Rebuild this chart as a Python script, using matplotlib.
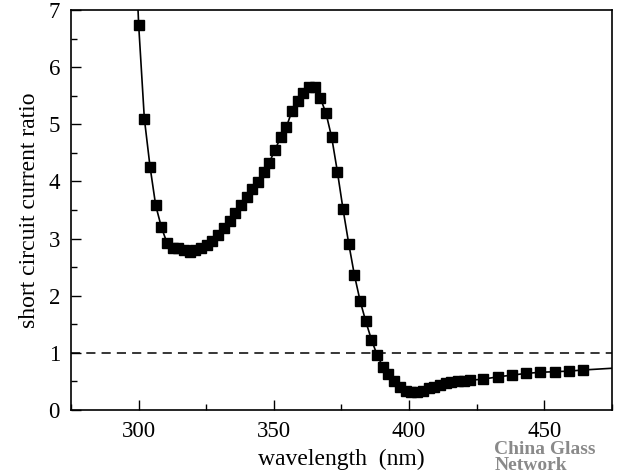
import matplotlib

matplotlib.use("Agg")

import matplotlib.pyplot as plt
from matplotlib.ticker import MultipleLocator

# values
wavelength_nm = [
    300.0, 302.1, 304.2, 306.3, 308.4, 310.5, 312.6, 314.7, 316.8, 318.9,
    321.0, 323.1, 325.2, 327.3, 329.4, 331.5, 333.6, 335.7, 337.8, 339.9,
    342.0, 344.1, 346.2, 348.3, 350.4, 352.5, 354.6, 356.7, 358.8, 360.9,
    363.0, 365.1, 367.2, 369.3, 371.4, 373.5, 375.6, 377.7, 379.8, 381.9,
    384.0, 386.1, 388.2, 390.3, 392.4, 394.5, 396.6, 398.7, 400.8, 402.9,
    405.0, 407.2, 409.4, 411.3, 413.7, 415.6, 418.0, 420.4, 422.5,
    427.5, 432.8, 438.1, 443.3, 448.6, 453.9, 459.1, 464.5,
]
current_ratio = [
    6.74, 5.10, 4.26, 3.58, 3.20, 2.92, 2.83, 2.83, 2.80, 2.77,
    2.80, 2.83, 2.88, 2.95, 3.06, 3.18, 3.31, 3.45, 3.59, 3.73,
    3.87, 3.99, 4.17, 4.33, 4.55, 4.77, 4.95, 5.23, 5.41, 5.54,
    5.65, 5.65, 5.46, 5.19, 4.77, 4.17, 3.51, 2.91, 2.36, 1.91,
    1.55, 1.23, 0.96, 0.76, 0.63, 0.51, 0.41, 0.34, 0.32, 0.32,
    0.34, 0.38, 0.41, 0.44, 0.47, 0.49, 0.50, 0.51, 0.52,
    0.54, 0.58, 0.61, 0.64, 0.66, 0.67, 0.68, 0.70,
]
# the fitted curve runs past the first and last points
curve_start = (299.5, 7.3)
curve_end = (475.0, 0.73)
reference_level = 1.0

plt.rcParams["font.family"] = ["Liberation Serif", "DejaVu Serif"]

fig = plt.figure(figsize=(6.18, 4.76), dpi=100)
ax = fig.add_axes([0.115, 0.1387, 0.875, 0.8403])

line_x = [curve_start[0]] + wavelength_nm + [curve_end[0]]
line_y = [curve_start[1]] + current_ratio + [curve_end[1]]
ax.plot(line_x, line_y, color="black", linewidth=1.2, zorder=2)
ax.plot(wavelength_nm, current_ratio, linestyle="none", marker="s",
        markersize=7, color="black", zorder=3)
ax.axhline(reference_level, color="black", linewidth=1.1,
           linestyle=(0, (6, 4)), zorder=1)

ax.set_xlim(275, 475)
ax.set_ylim(0, 7)
ax.xaxis.set_major_locator(MultipleLocator(50))
ax.xaxis.set_minor_locator(MultipleLocator(25))
ax.yaxis.set_major_locator(MultipleLocator(1))
ax.yaxis.set_minor_locator(MultipleLocator(0.5))
ax.tick_params(which="both", direction="in", top=False, right=False,
               width=1.0, labelsize=16.5)
ax.tick_params(which="major", length=7, pad=8)
ax.tick_params(which="minor", length=4)
for spine in ax.spines.values():
    spine.set_linewidth(1.2)

ax.set_xlabel("wavelength  (nm)", fontsize=17, labelpad=5)
ax.set_ylabel("short circuit current ratio", fontsize=17, labelpad=6)

fig.text(0.80, 0.004, "China Glass\nNetwork", fontsize=14, fontweight="bold",
         color="#8a8a8a", ha="left", va="bottom", linespacing=0.9)

fig.savefig("out.png", dpi=100)
plt.close(fig)
